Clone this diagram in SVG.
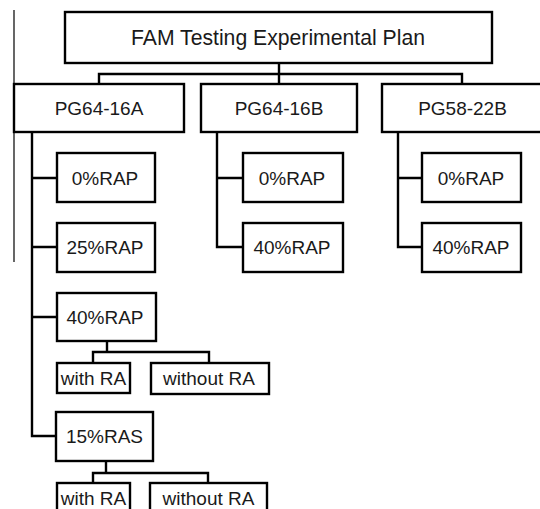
<svg xmlns="http://www.w3.org/2000/svg" width="540" height="509" viewBox="0 0 540 509">
<style>
.box{fill:#fff;stroke:#000;stroke-width:2.4}
.t{font-family:"Liberation Sans",Arial,sans-serif;font-size:19px;fill:#1a1a1a;text-anchor:middle}
.c{fill:none;stroke:#000;stroke-width:2.4}
</style>
<rect width="540" height="509" fill="#fff"/>
<line x1="14" y1="10" x2="14" y2="262" stroke="#000" stroke-width="1.2"/>
<g id="connectors">
<path class="c" d="M279 63V74M99 84V74H462V84M279 74V84"/>
<path class="c" d="M32 132V436H56M32 178H57M32 247H57M32 317H57"/>
<path class="c" d="M107 341V352M93 363V352H209V363"/>
<path class="c" d="M106 461V473M93 483V473H208V483"/>
<path class="c" d="M217 132V247H243M217 178H243"/>
<path class="c" d="M398 132V247H422M398 178H422"/>
</g>
<g id="root"><rect class="box" x="65" y="12" width="427" height="51"/><text class="t" x="278" y="45" style="font-size:21.2px">FAM Testing Experimental Plan</text></g>
<g id="pg6416a"><rect class="box" x="14" y="84" width="170" height="48"/><text class="t" x="99" y="115">PG64-16A</text></g>
<g id="pg6416b"><rect class="box" x="201" y="84" width="156" height="48"/><text class="t" x="279" y="115">PG64-16B</text></g>
<g id="pg5822b"><rect class="box" x="382" y="84" width="161" height="48"/><text class="t" x="462.5" y="115">PG58-22B</text></g>
<g id="a0"><rect class="box" x="57" y="153" width="98" height="49"/><text class="t" x="105" y="185">0%RAP</text></g>
<g id="a25"><rect class="box" x="57" y="223" width="98" height="49"/><text class="t" x="105" y="254">25%RAP</text></g>
<g id="a40"><rect class="box" x="57" y="293" width="99" height="48"/><text class="t" x="105" y="324">40%RAP</text></g>
<g id="a40with"><rect class="box" x="57" y="363" width="73" height="30"/><text class="t" x="93.5" y="385">with RA</text></g>
<g id="a40without"><rect class="box" x="151" y="363" width="118" height="31"/><text class="t" x="209" y="385">without RA</text></g>
<g id="a15ras"><rect class="box" x="56" y="412" width="97" height="49"/><text class="t" x="104.5" y="443">15%RAS</text></g>
<g id="raswith"><rect class="box" x="57" y="483" width="73" height="34"/><text class="t" x="93.5" y="505">with RA</text></g>
<g id="raswithout"><rect class="box" x="150" y="483" width="117" height="34"/><text class="t" x="208.5" y="505">without RA</text></g>
<g id="b0"><rect class="box" x="243" y="153" width="100" height="49"/><text class="t" x="292" y="185">0%RAP</text></g>
<g id="b40"><rect class="box" x="243" y="223" width="100" height="49"/><text class="t" x="292" y="254">40%RAP</text></g>
<g id="c0"><rect class="box" x="422" y="153" width="99" height="49"/><text class="t" x="471" y="185">0%RAP</text></g>
<g id="c40"><rect class="box" x="422" y="223" width="99" height="49"/><text class="t" x="471" y="254">40%RAP</text></g>
</svg>
